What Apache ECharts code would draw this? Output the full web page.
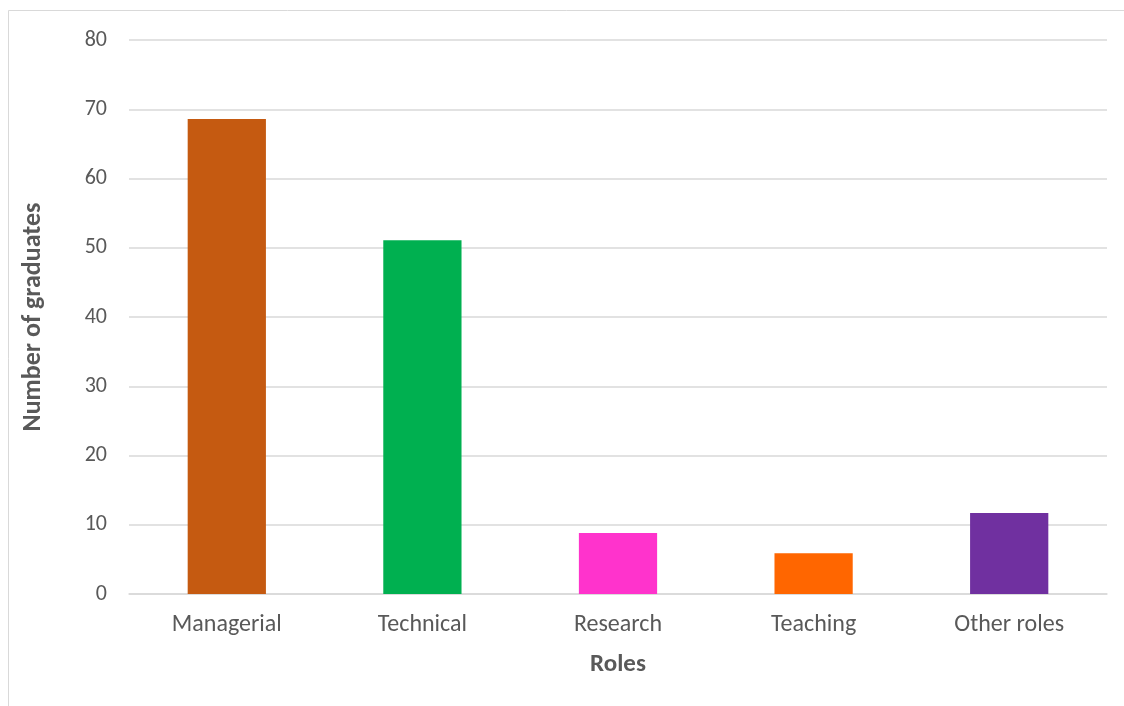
<!DOCTYPE html>
<html>
<head>
<meta charset="utf-8">
<style>
  html, body { margin: 0; padding: 0; background: #ffffff; }
  #chart { width: 1124px; height: 706px; }
</style>
<script src="https://cdn.jsdelivr.net/npm/echarts@6/dist/echarts.min.js"></script>
</head>
<body>
<div id="chart"></div>
<script>
// Graduates by role
const roles = ['Managerial', 'Technical', 'Research', 'Teaching', 'Other roles'];
const graduates = [68.6, 51.1, 8.8, 5.9, 11.7];
const barColors = ['#C55A11', '#00B050', '#FF33CC', '#FF6600', '#7030A0'];
const yTicks = [0, 10, 20, 30, 40, 50, 60, 70, 80];

const FONT = 'Carlito, Lato, "Open Sans", sans-serif';
const TEXT = '#595959';
const GRID = '#d9d9d9';

const chart = echarts.init(document.getElementById('chart'), null, { renderer: 'canvas' });

chart.setOption({
  animation: false,
  backgroundColor: '#ffffff',
  graphic: [{
    type: 'rect',
    silent: true,
    shape: { x: 8.5, y: 10.5, width: 1300, height: 900 },
    style: { fill: 'none', stroke: GRID, lineWidth: 1 }
  }],
  grid: { left: 129, right: 17, top: 40, bottom: 112, containLabel: false },
  xAxis: {
    type: 'category',
    data: roles,
    name: 'Roles',
    nameLocation: 'middle',
    nameGap: 58,
    nameTextStyle: { fontFamily: FONT, fontSize: 25, fontWeight: 'bold', color: TEXT },
    axisLine: { show: true, lineStyle: { color: GRID, width: 1.5 } },
    axisTick: { show: false },
    axisLabel: { fontFamily: FONT, fontSize: 24, color: TEXT, margin: 19 }
  },
  yAxis: {
    type: 'value',
    min: yTicks[0],
    max: yTicks[yTicks.length - 1],
    interval: yTicks[1] - yTicks[0],
    name: 'Number of graduates',
    nameLocation: 'middle',
    nameGap: 83,
    nameRotate: 90,
    nameTextStyle: { fontFamily: FONT, fontSize: 26, fontWeight: 'bold', color: TEXT },
    axisLine: { show: false },
    axisTick: { show: false },
    axisLabel: { fontFamily: FONT, fontSize: 22, color: TEXT, margin: 22 },
    splitLine: { show: true, lineStyle: { color: GRID, width: 1.5 } }
  },
  series: [{
    type: 'bar',
    barWidth: '40%',
    data: graduates.map((v, i) => ({ value: v, itemStyle: { color: barColors[i] } }))
  }]
});
</script>
</body>
</html>
